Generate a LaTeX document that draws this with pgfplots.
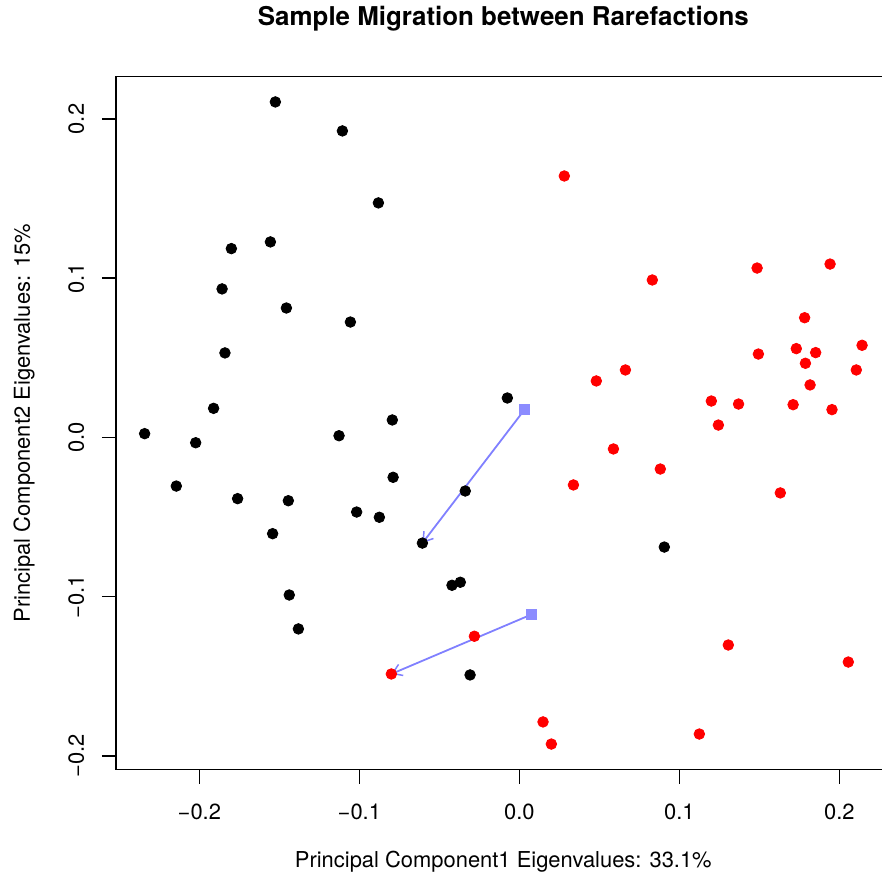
\documentclass[border=0pt]{standalone}
\usepackage{fontspec}
\setmainfont{TeX Gyre Heros}
\usepackage{pgfplots}
\pgfplotsset{compat=1.18}
\usetikzlibrary{arrows.meta}
\definecolor{arrowblue}{RGB}{128,128,255}
\definecolor{sqblue}{RGB}{140,140,255}
\definecolor{rred}{RGB}{255,0,0}

\begin{document}
\begin{tikzpicture}
\useasboundingbox (-116bp,-110.3bp) rectangle (766bp,769.7bp);
\clip (-116bp,-110.3bp) rectangle (766bp,769.7bp);
\begin{axis}[
  at={(0,0)}, anchor=south west,
  scale only axis, width=774.7bp, height=693.4bp,
  xmin=-0.2521, xmax=0.2321, ymin=-0.2086, ymax=0.2268,
  axis line style={line width=1.5bp},
  tick align=outside, xtick pos=bottom, ytick pos=left,
  major tick length=14bp,
  tick style={line width=1.5bp, black},
  xtick={-0.2,-0.1,0,0.1,0.2}, xticklabels={−0.2,−0.1,0.0,0.1,0.2},
  ytick={-0.2,-0.1,0,0.1,0.2}, yticklabels={−0.2,−0.1,0.0,0.1,0.2},
  ticklabel style={font=\fontsize{22}{26}\selectfont},
  xticklabel style={anchor=base, inner sep=0pt, yshift=-36bp},
  yticklabel style={rotate=90, anchor=base, inner sep=0pt, yshift=18bp},
  title={Sample Migration between Rarefactions},
  title style={at={(axis description cs:0.5,1)}, anchor=base, yshift=45bp, font=\bfseries\fontsize{26}{30}\selectfont},
  every axis y label/.style={at={(axis description cs:0,0.5)}, xshift=-86bp, rotate=90, anchor=base, font=\fontsize{22}{26}\selectfont},
  every axis x label/.style={at={(axis description cs:0.5,0)}, yshift=-98bp, anchor=base, font=\fontsize{22}{26}\selectfont},
  xlabel={Principal Component1 Eigenvalues: 33.1\%},
  ylabel={Principal Component2 Eigenvalues: 15\%},
]
% migration arrows
\addplot[arrowblue, line width=1.8bp, -{Straight Barb[length=9bp,width=12bp,line width=1.5bp]}, mark=none] coordinates {(0.0031,0.0173) (-0.0606,-0.0663)};
\addplot[arrowblue, line width=1.8bp, -{Straight Barb[length=9bp,width=12bp,line width=1.5bp]}, mark=none] coordinates {(0.0079,-0.1110) (-0.0800,-0.1485)};
% start positions
\addplot[sqblue, only marks, mark=square*, mark size=5bp, mark options={solid, fill=sqblue, draw=sqblue, line width=0pt}] coordinates {(0.0031,0.0173) (0.0079,-0.1110)};
% black samples
\addplot[black, only marks, mark=*, mark size=5.3bp, mark options={fill=black, draw=black, line width=0.8bp}] coordinates {
(-0.1525,0.2107) (-0.1106,0.1925) (-0.0881,0.1473) (-0.1800,0.1186) (-0.1556,0.1228)
(-0.1858,0.0933) (-0.1456,0.0813) (-0.1056,0.0725) (-0.1840,0.0531) (-0.1911,0.0183)
(-0.2342,0.0024) (-0.2023,-0.0033) (-0.1127,0.0011) (-0.0794,0.0110) (-0.0075,0.0248)
(-0.2144,-0.0305) (-0.1761,-0.0384) (-0.1444,-0.0397) (-0.0789,-0.0250) (-0.1017,-0.0468)
(-0.0875,-0.0501) (-0.0338,-0.0336) (-0.1542,-0.0604) (-0.0606,-0.0663) (0.0906,-0.0688)
(-0.1438,-0.0989) (-0.0421,-0.0928) (-0.0369,-0.0909) (-0.1381,-0.1202) (-0.0308,-0.1491)
};
% red samples
\addplot[rred, only marks, mark=*, mark size=5.3bp, mark options={fill=rred, draw=rred, line width=0.8bp}] coordinates {
(0.0281,0.1642) (0.0831,0.0989) (0.1486,0.1064) (0.1942,0.1089) (0.1783,0.0752)
(0.2142,0.0579) (0.1494,0.0524) (0.1731,0.0558) (0.1852,0.0533) (0.1788,0.0466)
(0.2106,0.0424) (0.1817,0.0330) (0.1370,0.0210) (0.1711,0.0206) (0.1954,0.0175)
(0.0663,0.0424) (0.0481,0.0355) (0.1200,0.0229) (0.1244,0.0078) (0.0588,-0.0072)
(0.0881,-0.0198) (0.0338,-0.0298) (0.1631,-0.0348) (0.1306,-0.1303) (0.2056,-0.1410)
(-0.0281,-0.1248) (-0.0800,-0.1485) (0.0148,-0.1786) (0.0200,-0.1925) (0.1125,-0.1862)
};
\end{axis}
\end{tikzpicture}
\end{document}
